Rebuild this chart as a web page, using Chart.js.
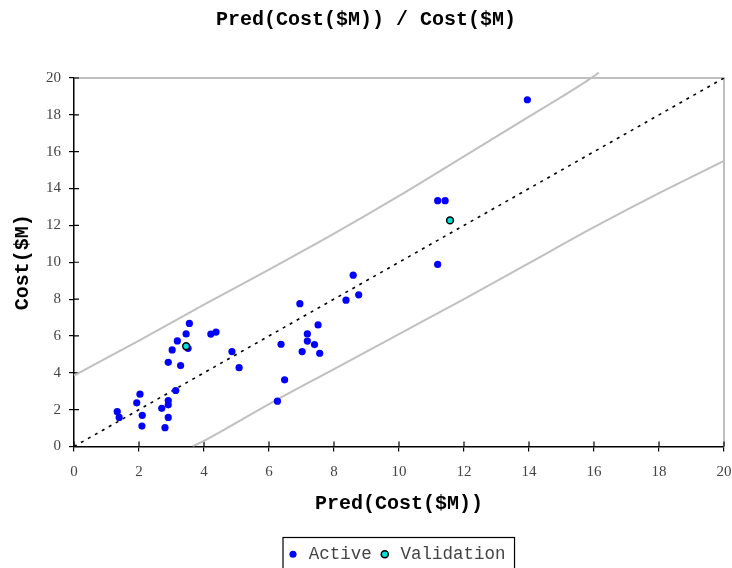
<!DOCTYPE html>
<html>
<head>
<meta charset="utf-8">
<script src="https://cdn.jsdelivr.net/npm/chart.js@4/dist/chart.umd.min.js"></script>
<style>
  html, body { margin: 0; padding: 0; background: #fff; }
  #wrap { width: 732px; height: 568px; overflow: hidden; }
</style>
</head>
<body>
<div id="wrap"><canvas id="costChart" width="732" height="568"></canvas></div>
<script>
// values
const activeX = [3.55, 3.45, 3.18, 3.02, 3.51, 2.90, 3.28, 4.21, 4.37, 4.86, 5.08, 3.13, 2.03, 1.93, 2.90, 2.90, 2.70, 1.33, 1.39, 2.10, 2.90, 2.09, 2.80,
                 6.48, 6.26, 6.37, 6.95, 7.02, 7.18, 7.18, 7.40, 7.51, 7.56, 8.37, 8.76, 8.59,
                 13.95, 11.19, 11.42, 11.19];
const activeY = [6.68, 6.11, 5.73, 5.24, 5.33, 4.57, 4.39, 6.10, 6.21, 5.15, 4.28, 3.04, 2.84, 2.37, 2.49, 2.26, 2.07, 1.89, 1.58, 1.69, 1.58, 1.11, 1.02,
                 3.62, 2.46, 5.55, 7.75, 5.15, 6.11, 5.72, 5.53, 6.60, 5.06, 7.94, 8.23, 9.30,
                 18.82, 13.34, 13.34, 9.88];
const validX = [3.45, 11.57];
const validY = [5.44, 12.27];

// prediction band curves
const upperX = [0, 2, 4, 6, 8, 10, 12, 14, 16, 16.15];
const upperY = [3.85, 5.75, 7.7, 9.6, 11.55, 13.6, 15.75, 17.9, 20.1, 20.3];
const lowerX = [3.65, 4, 6, 8, 10, 12, 14, 16, 18, 20];
const lowerY = [0, 0.3, 2.3, 4.2, 6.1, 8.0, 9.95, 11.9, 13.75, 15.5];
const identX = [0, 20];
const identY = [0, 20];

const tickValues = [0, 2, 4, 6, 8, 10, 12, 14, 16, 18, 20];

const pts = (xs, ys) => xs.map((x, i) => ({ x: x, y: ys[i] }));

const monoBold = { family: 'Liberation Mono', size: 20, weight: 'bold' };
const serifTick = { family: 'Liberation Serif', size: 15 };

// gray frame on top/right, tick marks that cross into the plot, boxed legend
const frameTicks = {
    id: 'frameTicks',
    afterUpdate(chart) {
        // the legend sits a little right of centre in the original
        const lg = chart.legend;
        const boxes = lg.legendHitBoxes;
        if (!boxes || !boxes.length) return;
        const shift = 286 - boxes[0].left;
        lg.left += shift;
        lg.right += shift;
        boxes.forEach(b => { b.left += shift; });
    },
    beforeDatasetsDraw(chart) {
        const { ctx, chartArea: a, scales } = chart;
        ctx.save();
        ctx.strokeStyle = '#aaaaaa';
        ctx.lineWidth = 1.5;
        ctx.beginPath();
        ctx.moveTo(a.left, a.top);
        ctx.lineTo(a.right, a.top);
        ctx.lineTo(a.right, a.bottom);
        ctx.stroke();
        ctx.strokeStyle = '#000';
        ctx.lineWidth = 1.2;
        ctx.beginPath();
        tickValues.forEach(v => {
            const px = scales.x.getPixelForValue(v);
            ctx.moveTo(px, a.bottom);
            ctx.lineTo(px, a.bottom - 5);
            const py = scales.y.getPixelForValue(v);
            ctx.moveTo(a.left, py);
            ctx.lineTo(a.left + 5, py);
        });
        ctx.stroke();
        ctx.restore();
    },
    afterDraw(chart) {
        const boxes = chart.legend.legendHitBoxes;
        if (!boxes || !boxes.length) return;
        const first = boxes[0], last = boxes[boxes.length - 1];
        const ctx = chart.ctx;
        ctx.save();
        ctx.strokeStyle = '#000';
        ctx.lineWidth = 1.2;
        ctx.strokeRect(first.left - 3, first.top - 8, last.left + last.width - first.left + 12, 60);
        ctx.restore();
    }
};

const costChart = new Chart(document.getElementById('costChart').getContext('2d'), {
    type: 'scatter',
    data: {
        datasets: [{
            label: 'Active',
            data: pts(activeX, activeY),
            backgroundColor: '#0000ff',
            borderWidth: 0,
            pointRadius: 3.6,
            order: 1
        }, {
            label: 'Validation',
            data: pts(validX, validY),
            backgroundColor: '#00e0d8',
            borderColor: '#000',
            borderWidth: 1.5,
            pointRadius: 3.4,
            order: 0
        }, {
            label: 'upper',
            data: pts(upperX, upperY),
            showLine: true,
            borderColor: '#c0c0c0',
            borderWidth: 2,
            pointRadius: 0,
            cubicInterpolationMode: 'monotone',
            clip: 10,
            order: 2
        }, {
            label: 'lower',
            data: pts(lowerX, lowerY),
            showLine: true,
            borderColor: '#c0c0c0',
            borderWidth: 2,
            pointRadius: 0,
            cubicInterpolationMode: 'monotone',
            order: 2
        }, {
            label: 'ident',
            data: pts(identX, identY),
            showLine: true,
            borderColor: '#000',
            borderWidth: 1.6,
            borderDash: [3, 5],
            pointRadius: 0,
            order: 2
        }]
    },
    options: {
        responsive: false,
        animation: false,
        layout: { padding: { left: 0, right: 0, top: 0, bottom: -5 } },
        plugins: {
            title: {
                display: true,
                text: 'Pred(Cost($M)) / Cost($M)',
                color: '#000',
                font: monoBold,
                padding: { top: 8, bottom: 46 }
            },
            legend: {
                position: 'bottom',
                labels: {
                    filter: item => item.datasetIndex < 2,
                    sort: (a, b) => a.datasetIndex - b.datasetIndex,
                    usePointStyle: true,
                    pointStyle: 'circle',
                    boxWidth: 14,
                    boxHeight: 5,
                    padding: 6,
                    color: '#444',
                    font: { family: 'Liberation Mono', size: 17.5 }
                }
            },
            tooltip: { enabled: false }
        },
        scales: {
            x: {
                type: 'linear',
                min: 0,
                max: 20,
                afterFit: s => { s.height = 93; s.paddingRight = 8; },
                ticks: { stepSize: 2, color: '#444', font: serifTick, padding: 12 },
                grid: { drawOnChartArea: false, drawTicks: true, tickLength: 5, color: '#000', lineWidth: 1.2 },
                border: { color: '#000', width: 1.5 },
                title: { display: true, text: 'Pred(Cost($M))', color: '#000', font: monoBold, padding: { top: 0, bottom: 24 } }
            },
            y: {
                type: 'linear',
                min: 0,
                max: 20,
                afterFit: s => { s.width = 74; },
                ticks: { stepSize: 2, color: '#444', font: serifTick, padding: 8 },
                grid: { drawOnChartArea: false, drawTicks: true, tickLength: 5, color: '#000', lineWidth: 1.2 },
                border: { color: '#000', width: 1.5 },
                title: { display: true, text: 'Cost($M)', color: '#000', font: monoBold, padding: { top: 11, bottom: 0 } }
            }
        }
    },
    plugins: [frameTicks]
});
</script>
</body>
</html>
